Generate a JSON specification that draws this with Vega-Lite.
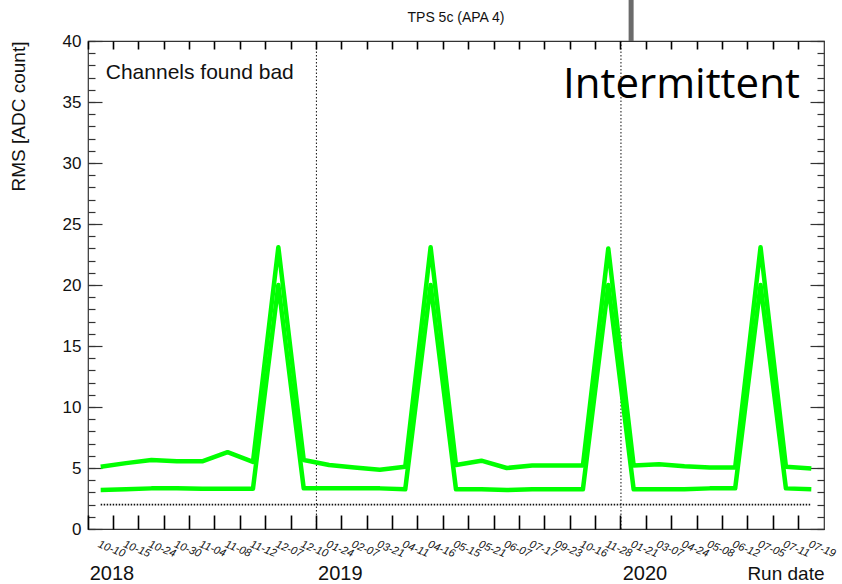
{
  "$schema": "https://vega.github.io/schema/vega-lite/v6.json",
  "width": 736,
  "height": 488,
  "autosize": {"type": "none"},
  "padding": {"left": 88, "top": 41, "right": 18, "bottom": 55},
  "title": {"text": "TPS 5c (APA 4)", "fontSize": 14, "font": "Liberation Sans", "fontWeight": "normal", "color": "#111111", "offset": 17, "dy": 46, "anchor": "middle"},
  "config": {
    "view": {"stroke": "#333333", "strokeWidth": 1.2},
    "axis": {"labelFont": "Liberation Sans", "titleFont": "Liberation Sans", "grid": false, "tickColor": "#333333", "domainColor": "#333333", "tickWidth": 1.2}
  },
  "datasets": {
    "rms": [
      {"run": "2018-10-10", "series": "hi", "rms": 5.1},
      {"run": "2018-10-15", "series": "hi", "rms": 5.4},
      {"run": "2018-10-24", "series": "hi", "rms": 5.65},
      {"run": "2018-10-30", "series": "hi", "rms": 5.55},
      {"run": "2018-11-04", "series": "hi", "rms": 5.55},
      {"run": "2018-11-08", "series": "hi", "rms": 6.3},
      {"run": "2018-11-12", "series": "hi", "rms": 5.5},
      {"run": "2018-12-07", "series": "hi", "rms": 23.1},
      {"run": "2018-12-10", "series": "hi", "rms": 5.65},
      {"run": "2019-01-24", "series": "hi", "rms": 5.25},
      {"run": "2019-02-07", "series": "hi", "rms": 5.05},
      {"run": "2019-03-21", "series": "hi", "rms": 4.85},
      {"run": "2019-04-11", "series": "hi", "rms": 5.1},
      {"run": "2019-04-16", "series": "hi", "rms": 23.1},
      {"run": "2019-05-15", "series": "hi", "rms": 5.25},
      {"run": "2019-05-21", "series": "hi", "rms": 5.6},
      {"run": "2019-06-07", "series": "hi", "rms": 5.0},
      {"run": "2019-07-17", "series": "hi", "rms": 5.2},
      {"run": "2019-09-23", "series": "hi", "rms": 5.2},
      {"run": "2019-10-16", "series": "hi", "rms": 5.2},
      {"run": "2019-11-28", "series": "hi", "rms": 23.0},
      {"run": "2020-01-21", "series": "hi", "rms": 5.2},
      {"run": "2020-03-07", "series": "hi", "rms": 5.3},
      {"run": "2020-04-24", "series": "hi", "rms": 5.15},
      {"run": "2020-05-08", "series": "hi", "rms": 5.05},
      {"run": "2020-06-12", "series": "hi", "rms": 5.05},
      {"run": "2020-07-05", "series": "hi", "rms": 23.1},
      {"run": "2020-07-11", "series": "hi", "rms": 5.1},
      {"run": "2020-07-19", "series": "hi", "rms": 4.95},
      {"run": "2018-10-10", "series": "lo", "rms": 3.2},
      {"run": "2018-10-15", "series": "lo", "rms": 3.25},
      {"run": "2018-10-24", "series": "lo", "rms": 3.33},
      {"run": "2018-10-30", "series": "lo", "rms": 3.33},
      {"run": "2018-11-04", "series": "lo", "rms": 3.3},
      {"run": "2018-11-08", "series": "lo", "rms": 3.3},
      {"run": "2018-11-12", "series": "lo", "rms": 3.3},
      {"run": "2018-12-07", "series": "lo", "rms": 20.0},
      {"run": "2018-12-10", "series": "lo", "rms": 3.33},
      {"run": "2019-01-24", "series": "lo", "rms": 3.35},
      {"run": "2019-02-07", "series": "lo", "rms": 3.35},
      {"run": "2019-03-21", "series": "lo", "rms": 3.33},
      {"run": "2019-04-11", "series": "lo", "rms": 3.25},
      {"run": "2019-04-16", "series": "lo", "rms": 20.0},
      {"run": "2019-05-15", "series": "lo", "rms": 3.25},
      {"run": "2019-05-21", "series": "lo", "rms": 3.25},
      {"run": "2019-06-07", "series": "lo", "rms": 3.2},
      {"run": "2019-07-17", "series": "lo", "rms": 3.25},
      {"run": "2019-09-23", "series": "lo", "rms": 3.25},
      {"run": "2019-10-16", "series": "lo", "rms": 3.25},
      {"run": "2019-11-28", "series": "lo", "rms": 20.0},
      {"run": "2020-01-21", "series": "lo", "rms": 3.25},
      {"run": "2020-03-07", "series": "lo", "rms": 3.25},
      {"run": "2020-04-24", "series": "lo", "rms": 3.25},
      {"run": "2020-05-08", "series": "lo", "rms": 3.33},
      {"run": "2020-06-12", "series": "lo", "rms": 3.33},
      {"run": "2020-07-05", "series": "lo", "rms": 20.0},
      {"run": "2020-07-11", "series": "lo", "rms": 3.33},
      {"run": "2020-07-19", "series": "lo", "rms": 3.25}
    ],
    "years": [
      {"run": "2019-01-24", "lo": 0, "hi": 40},
      {"run": "2020-01-21", "lo": 0, "hi": 40}
    ],
    "threshold": [
      {"run": "2018-10-10", "rms": 2},
      {"run": "2020-07-19", "rms": 2}
    ]
  },
  "layer": [
    {
      "data": {"name": "years"},
      "mark": {"type": "rule", "stroke": "#111111", "strokeWidth": 1, "strokeDash": [1.5, 2]},
      "encoding": {
        "x": {"field": "run", "type": "ordinal", "bandPosition": 0,
          "axis": {"orient": "bottom", "labels": false, "domain": false, "ticks": true, "bandPosition": 0, "tickSize": -14, "tickColor": "#000000", "tickWidth": 1.6, "tickOpacity": 1, "zindex": 2, "title": null}},
        "y": {"field": "lo", "type": "quantitative",
          "axis": {"orient": "left", "labels": false, "domain": false, "values": [0,1,2,3,4,5,6,7,8,9,10,11,12,13,14,15,16,17,18,19,20,21,22,23,24,25,26,27,28,29,30,31,32,33,34,35,36,37,38,39,40], "tickSize": -7, "title": null}},
        "y2": {"field": "hi"}
      }
    },
    {
      "data": {"name": "threshold"},
      "mark": {"type": "line", "stroke": "#111111", "strokeWidth": 1.6, "strokeDash": [1.5, 1.5]},
      "encoding": {
        "x": {"field": "run", "type": "ordinal",
          "axis": {"orient": "top", "labels": false, "domain": false, "ticks": true, "bandPosition": 0, "tickSize": -8, "tickColor": "#000000", "tickWidth": 1.6, "tickOpacity": 1, "zindex": 2, "title": null}},
        "y": {"field": "rms", "type": "quantitative",
          "axis": {"orient": "right", "labels": false, "domain": false, "values": [0,5,10,15,20,25,30,35,40], "tickSize": -14, "title": null}}
      }
    },
    {
      "data": {"name": "rms"},
      "mark": {"type": "line", "stroke": "#00ff00", "strokeWidth": 4.5, "strokeJoin": "round"},
      "encoding": {
        "x": {"field": "run", "type": "ordinal", "scale": {"type": "band", "paddingInner": 0, "paddingOuter": 0},
          "axis": {"orient": "bottom", "ticks": false, "domain": false, "labelExpr": "slice(datum.value, 5)", "labelAngle": 22, "labelAlign": "left", "labelBaseline": "top", "labelPadding": 9, "labelFontSize": 11, "labelFontStyle": "italic", "labelOverlap": false, "labelBound": false, "labelFlush": false, "labelColor": "#111111", "title": null}},
        "y": {"field": "rms", "type": "quantitative", "scale": {"domain": [0, 40], "nice": false, "zero": true},
          "axis": {"orient": "left", "values": [0,5,10,15,20,25,30,35,40], "tickSize": -14, "labelPadding": 21, "labelFontSize": 17, "labelColor": "#111111", "domain": false,
            "title": "RMS [ADC count]", "titleFontSize": 19, "titleFontWeight": "normal", "titleColor": "#111111", "titleX": -70, "titleY": 0, "titleAngle": -90, "titleAlign": "right", "titleBaseline": "middle"}},
        "detail": {"field": "series"}
      }
    },
    {
      "data": {"values": [{"run": "2018-10-10", "rms": 37.4, "note": "Channels found bad"}]},
      "mark": {"type": "text", "align": "left", "baseline": "middle", "font": "Liberation Sans", "fontSize": 21, "color": "#111111"},
      "encoding": {
        "x": {"field": "run", "type": "ordinal", "bandPosition": 0.7,
          "axis": {"orient": "bottom", "ticks": false, "domain": false, "bandPosition": 0, "labelExpr": "datum.value == '2018-10-10' ? '2018' : datum.value == '2019-01-24' ? '2019' : datum.value == '2020-01-21' ? '2020' : ''", "labelAlign": "left", "labelBaseline": "alphabetic", "labelAngle": 0, "labelOffset": -11, "labelPadding": 50, "labelFontSize": 20, "labelColor": "#111111", "labelOverlap": false, "labelBound": false, "labelFlush": false,
            "title": "Run date", "titleFontSize": 19, "titleFontWeight": "normal", "titleColor": "#111111", "titleX": 736, "titleY": 50, "titleAlign": "right", "titleBaseline": "alphabetic"}},
        "y": {"field": "rms", "type": "quantitative",
          "axis": {"orient": "right", "labels": false, "domain": false, "values": [0,1,2,3,4,5,6,7,8,9,10,11,12,13,14,15,16,17,18,19,20,21,22,23,24,25,26,27,28,29,30,31,32,33,34,35,36,37,38,39,40], "tickSize": -7, "title": null}},
        "text": {"field": "note"}
      }
    },
    {
      "data": {"values": [{"run": "2020-07-19", "rms": 36.4, "note": "Intermittent"}]},
      "mark": {"type": "text", "align": "right", "baseline": "middle", "font": "Open Sans", "fontSize": 42, "color": "#000000"},
      "encoding": {
        "x": {"field": "run", "type": "ordinal", "bandPosition": 0.05, "axis": null},
        "y": {"field": "rms", "type": "quantitative", "axis": null},
        "text": {"field": "note"}
      }
    },
    {
      "data": {"values": [{"run": "2020-01-21", "y": 40, "y2": 43.5}]},
      "mark": {"type": "rule", "stroke": "#6b6b6b", "strokeWidth": 5},
      "encoding": {
        "x": {"field": "run", "type": "ordinal", "bandPosition": 0.4, "axis": null},
        "y": {"field": "y", "type": "quantitative", "axis": null},
        "y2": {"field": "y2"}
      }
    }
  ],
  "resolve": {"axis": {"x": "independent", "y": "independent"}}
}
